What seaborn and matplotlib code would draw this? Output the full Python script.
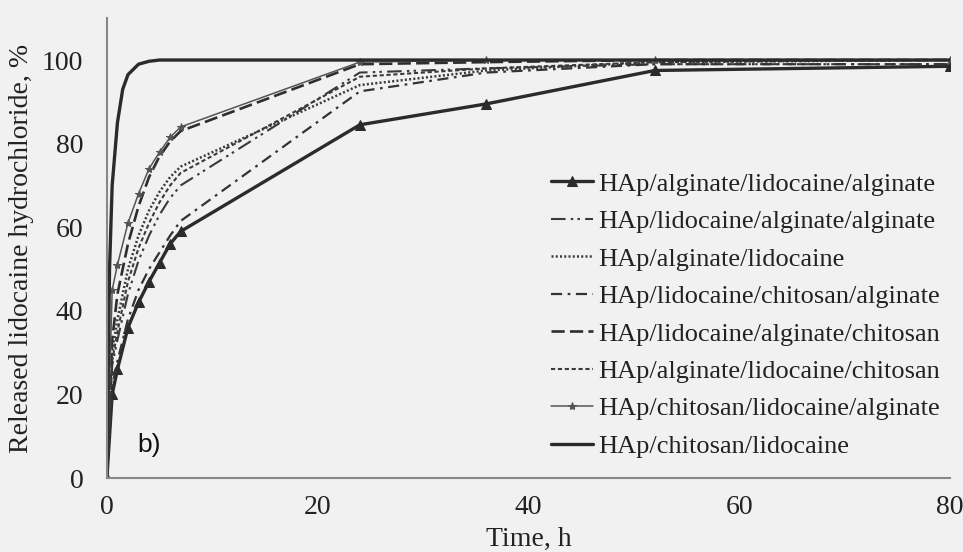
import numpy as np
import pandas as pd
import matplotlib
matplotlib.use("Agg")
import matplotlib.pyplot as plt
import seaborn as sns

# Release time points, h
time_h = [0, 0.5, 1, 2, 3, 4, 5, 6, 7, 24, 36, 52, 80]
time_h_fast = [0, 0.25, 0.5, 1, 1.5, 2, 3, 4, 5, 6, 7, 24, 36, 52, 80]

# Released lidocaine hydrochloride, %
alg_lido_alg = [0, 20, 26, 36, 42, 47, 51.5, 56, 59, 84.5, 89.5, 97.5, 98.5]
lido_alg_alg = [0, 27, 33, 44, 52, 58, 63, 67, 70, 97, 98, 99, 99]
alg_lido = [0, 30, 38, 50, 58, 64, 68.5, 72, 74.5, 94, 97.5, 99.5, 100]
lido_chit_alg = [0, 22, 28, 38, 45, 50, 54, 58, 61.5, 92.5, 97, 99, 99]
lido_alg_chit = [0, 33, 44, 56, 65, 72, 77, 80.5, 83, 99, 99.5, 100, 100]
alg_lido_chit = [0, 28, 35, 47, 55, 61, 66, 70, 73, 96, 98, 99.5, 100]
chit_lido_alg = [0, 45, 51, 61, 68, 74, 78, 81.5, 84, 99.5, 100, 100, 100]
chit_lido = [0, 50, 70, 85, 93, 96.5, 99, 99.7, 100, 100, 100, 100, 100, 100, 100]

labels = [
    "HAp/alginate/lidocaine/alginate",
    "HAp/lidocaine/alginate/alginate",
    "HAp/alginate/lidocaine",
    "HAp/lidocaine/chitosan/alginate",
    "HAp/lidocaine/alginate/chitosan",
    "HAp/alginate/lidocaine/chitosan",
    "HAp/chitosan/lidocaine/alginate",
    "HAp/chitosan/lidocaine",
]

series = [
    (time_h, alg_lido_alg, dict(color="#2b2b2b", lw=2.4, ls="-", marker="^", ms=7)),
    (time_h, lido_alg_alg, dict(color="#3a3a3a", lw=1.5, ls=(0, (7, 2.5, 1.2, 2, 1.2, 2.5)), marker=None)),
    (time_h, alg_lido, dict(color="#3a3a3a", lw=1.8, ls=(0, (0.8, 0.9)), marker=None)),
    (time_h, lido_chit_alg, dict(color="#333333", lw=1.6, ls=(0, (5, 2.5, 1.2, 2.5)), marker=None)),
    (time_h, lido_alg_chit, dict(color="#2e2e2e", lw=1.9, ls=(0, (5, 2)), marker=None)),
    (time_h, alg_lido_chit, dict(color="#3a3a3a", lw=1.5, ls=(0, (2, 1.3)), marker=None)),
    (time_h, chit_lido_alg, dict(color="#555555", lw=1.1, ls="-", marker="*", ms=6)),
    (time_h_fast, chit_lido, dict(color="#2b2b2b", lw=2.4, ls="-", marker=None)),
]

sns.set_theme(style="white")
plt.rcParams["font.family"] = ["Liberation Serif", "DejaVu Serif"]

bg = "#f1f1f1"
fig = plt.figure(figsize=(9.63, 5.52), dpi=100, facecolor=bg)
ax = fig.add_axes([0.111, 0.134, 0.8755, 0.833], facecolor=bg)

for (t, y, st), lab in zip(series, labels):
    df = pd.DataFrame({"t": t, "y": y})
    kw = dict(color=st["color"], linewidth=st["lw"], linestyle=st["ls"], label=lab)
    if st["marker"]:
        kw.update(marker=st["marker"], markersize=st["ms"],
                  markerfacecolor=st["color"], markeredgecolor=st["color"])
    sns.lineplot(data=df, x="t", y="y", ax=ax, estimator=None, sort=False, **kw)

ax.set_xlim(0, 80)
ax.set_ylim(0, 110)
ax.set_xticks([0, 20, 40, 60, 80])
ax.set_yticks([0, 20, 40, 60, 80, 100])
ax.tick_params(axis="both", labelsize=20, colors="#444444", length=5, width=1,
               direction="out", labelcolor="#222222")
ax.tick_params(axis="y", pad=12)
ax.tick_params(axis="x", direction="inout", length=6, pad=9)

for side in ["top", "right"]:
    ax.spines[side].set_visible(False)
for side in ["left", "bottom"]:
    ax.spines[side].set_color("#888888")
    ax.spines[side].set_linewidth(1.5)

ax.set_xlabel("Time, h", fontsize=20, color="#222222", labelpad=5)
ax.set_ylabel("Released lidocaine hydrochloride, %", fontsize=20, color="#222222", labelpad=6)

ax.text(0.036, 0.072, "b)", transform=ax.transAxes, fontsize=19,
        family=["Liberation Sans", "DejaVu Sans"], va="center", ha="left", color="#111111")

leg = ax.legend(loc="upper left", bbox_to_anchor=(0.527, 0.665), frameon=False,
                fontsize=19, handlelength=1.6, handletextpad=0.2,
                labelspacing=0.53, borderaxespad=0, borderpad=0)
for txt in leg.get_texts():
    txt.set_color("#222222")

fig.savefig("out.png", dpi=100, facecolor=bg)
